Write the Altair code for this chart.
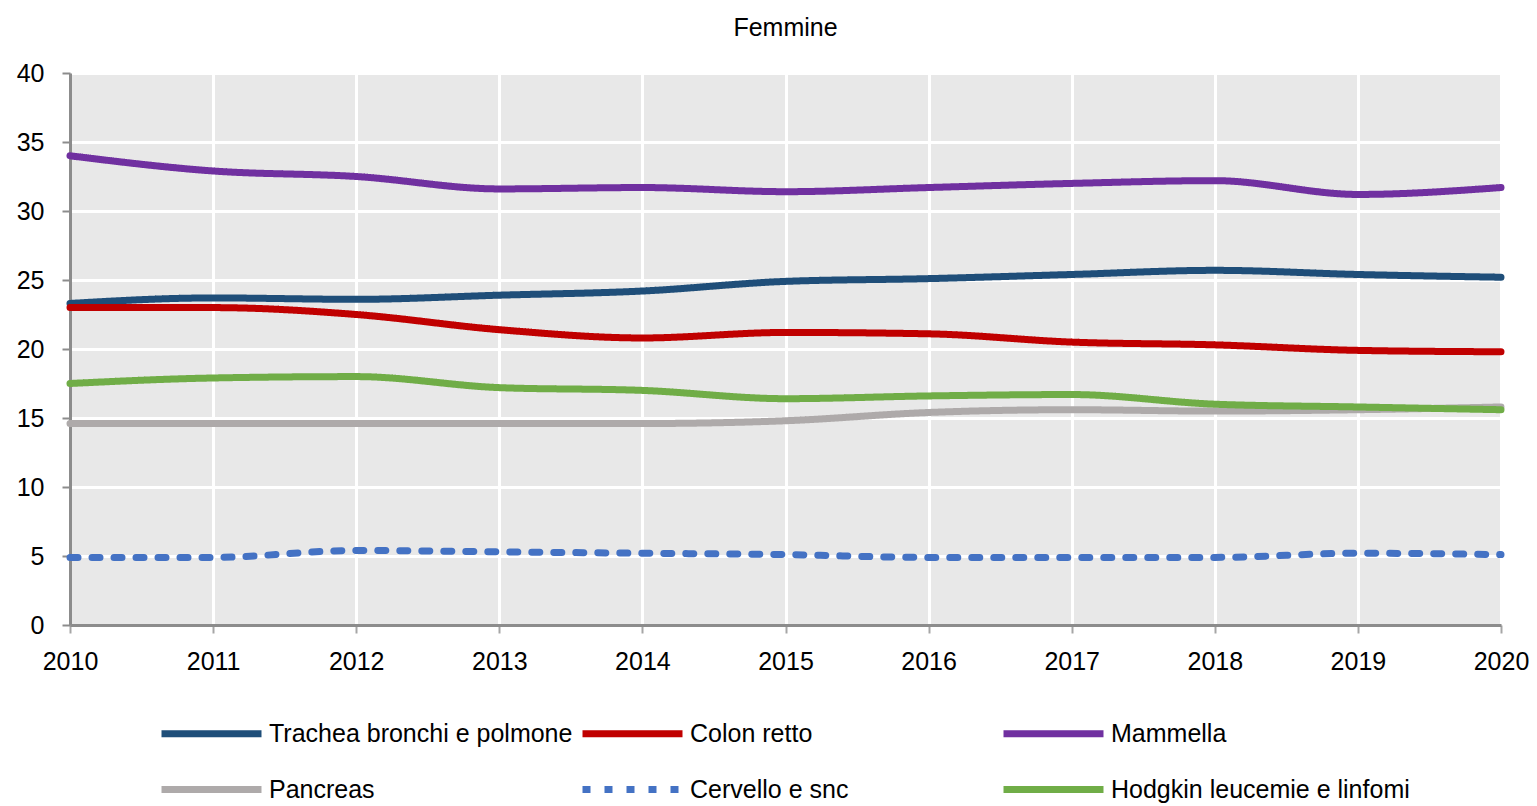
import altair as alt
import pandas as pd

anni = list(range(2010, 2021))
serie = ["Trachea bronchi e polmone", "Colon retto", "Mammella",
         "Pancreas", "Cervello e snc", "Hodgkin leucemie e linfomi"]
colori = ["#1F4E79", "#C00000", "#7030A0", "#AEAAAA", "#4472C4", "#70AD47"]

trachea = [23.3, 23.7, 23.6, 23.9, 24.2, 24.9, 25.1, 25.4, 25.7, 25.4, 25.2]
colon = [23.0, 23.0, 22.5, 21.4, 20.8, 21.2, 21.1, 20.5, 20.3, 19.9, 19.8]
mammella = [34.0, 32.9, 32.5, 31.6, 31.7, 31.4, 31.7, 32.0, 32.2, 31.2, 31.7]
pancreas = [14.6, 14.6, 14.6, 14.6, 14.6, 14.8, 15.4, 15.6, 15.5, 15.6, 15.8]
cervello = [4.9, 4.9, 5.4, 5.3, 5.2, 5.1, 4.9, 4.9, 4.9, 5.2, 5.1]
hodgkin = [17.5, 17.9, 18.0, 17.2, 17.0, 16.4, 16.6, 16.7, 16.0, 15.8, 15.6]

valori = [trachea, colon, mammella, pancreas, cervello, hodgkin]
righe = []
for nome, vals in zip(serie, valori):
    for a, v in zip(anni, vals):
        righe.append({"anno": a, "valore": v, "serie": nome})
df = pd.DataFrame(righe)

dash_range = [[1, 0], [1, 0], [1, 0], [1, 0], [8, 14], [1, 0]]

FONT = "Liberation Sans, Arial, sans-serif"


def make_legend():
    return alt.Legend(title=None, orient="none", legendX=128, legendY=647,
                      direction="horizontal", columns=3, gridAlign="all",
                      columnPadding=-5, rowPadding=27,
                      symbolType="M-5,0H5", symbolSize=400, symbolStrokeWidth=7,
                      labelFont=FONT, labelFontSize=25,
                      labelColor="black", labelOffset=44,
                      labelLimit=400, padding=0)


chart = alt.Chart(df).mark_line(
    interpolate="monotone", strokeWidth=7, strokeCap="round"
).encode(
    x=alt.X("anno:Q", scale=alt.Scale(domain=[2010, 2020], nice=False, zero=False),
            axis=alt.Axis(values=anni, format="d", title=None, grid=True,
                          gridColor="white", gridWidth=3,
                          domainColor="#8c8c8c", domainWidth=3,
                          tickColor="#a6a6a6", tickWidth=2, tickSize=8,
                          labelFont=FONT, labelFontSize=25, labelColor="black",
                          labelFlush=False, labelPadding=16)),
    y=alt.Y("valore:Q", scale=alt.Scale(domain=[0, 40], nice=False),
            axis=alt.Axis(values=[0, 5, 10, 15, 20, 25, 30, 35, 40], title=None,
                          grid=True, gridColor="white", gridWidth=3,
                          domainColor="#8c8c8c", domainWidth=3,
                          tickColor="#8c8c8c", tickWidth=2, tickSize=8,
                          labelFont=FONT, labelFontSize=25, labelColor="black",
                          labelPadding=18)),
    color=alt.Color("serie:N", scale=alt.Scale(domain=serie, range=colori),
                    legend=make_legend()),
    strokeDash=alt.StrokeDash("serie:N", scale=alt.Scale(domain=serie, range=dash_range),
                              legend=make_legend()),
    detail="serie:N",
).properties(
    width=1431, height=552,
    title=alt.TitleParams("Femmine", font=FONT, fontSize=25,
                          fontWeight="normal", color="black", anchor="middle",
                          offset=20),
    autosize=alt.AutoSizeParams(type="none"),
    padding={"left": 62, "top": 65, "right": 28, "bottom": 181},
).configure_view(
    fill="#E8E8E8", stroke=None
)

chart.save("out.html", embed_options={"renderer": "svg", "actions": False})
